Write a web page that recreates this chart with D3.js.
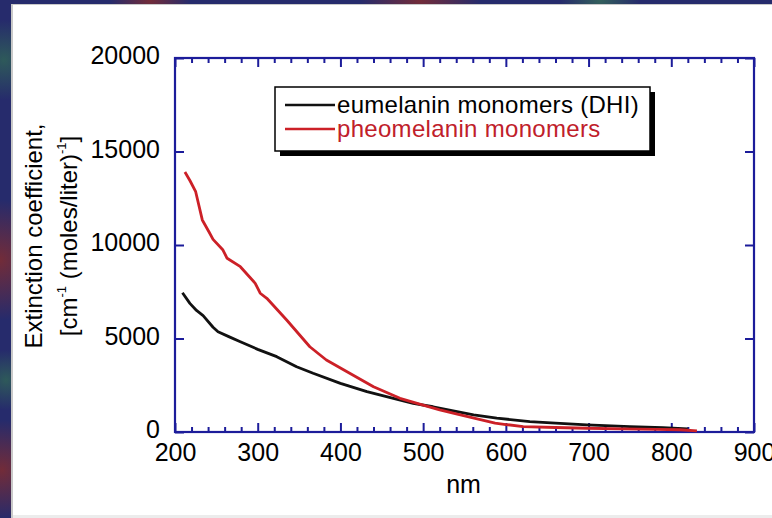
<!DOCTYPE html>
<html>
<head>
<meta charset="utf-8">
<script src="https://cdn.jsdelivr.net/npm/d3@7"></script>
<style>
  html, body { margin: 0; padding: 0; background: #262b6c; }
  svg { display: block; font-family: "Liberation Sans", Arial, sans-serif; }
</style>
</head>
<body>
<script>
const width = 772;
const height = 518;

// Eumelanin monomers (DHI)
const euNm  = [209, 218, 226, 234, 246, 252, 265, 279, 300, 323, 347, 367, 400, 432, 464, 488, 512, 541, 561, 589, 629, 660, 698, 750, 790, 820];
const euVal = [7450, 6880, 6500, 6220, 5600, 5360, 5100, 4830, 4420, 4030, 3490, 3140, 2600, 2155, 1800, 1530, 1350, 1090, 920, 740, 560, 470, 380, 290, 230, 170];

// Pheomelanin monomers
const pheoNm  = [212, 218, 225, 233, 241, 246, 258, 263, 279, 297, 303, 311, 335, 363, 383, 408, 440, 472, 500, 520, 545, 587, 600, 621, 660, 698, 740, 782, 810, 831];
const pheoVal = [13900, 13450, 12850, 11340, 10710, 10300, 9730, 9290, 8840, 7950, 7420, 7150, 5990, 4560, 3850, 3225, 2420, 1800, 1440, 1180, 920, 470, 400, 290, 240, 200, 170, 140, 120, 60];

const xTicks = [200, 300, 400, 500, 600, 700, 800, 900];
const yTicks = [0, 5000, 10000, 15000, 20000];
const legendLabels = ["eumelanin monomers (DHI)", "pheomelanin monomers"];

const axisColor = "#1c1c9a";
const euColor = "#111111";
const pheoColor = "#cc2027";

const margin = {left: 175, right: 754, top: 58, bottom: 432};

const svg = d3.select("body")
  .append("svg")
  .attr("width", width)
  .attr("height", height)
  .attr("viewBox", [0, 0, width, height]);

// mottled backdrop behind the white slide
const defs = svg.append("defs");
const blobs = [
  {id: "b1", c: "#7b2c33", cx: 0, cy: 260, r: 60},
  {id: "b2", c: "#2f5f58", cx: 4, cy: 60, r: 40},
  {id: "b3", c: "#7b2c33", cx: 2, cy: 470, r: 50},
  {id: "b4", c: "#2f5f58", cx: 6, cy: 380, r: 30},
  {id: "b5", c: "#7b2c33", cx: 420, cy: 0, r: 60},
  {id: "b6", c: "#35665a", cx: 600, cy: 0, r: 40},
  {id: "b7", c: "#7b2c33", cx: 150, cy: 0, r: 40}
];
blobs.forEach(b => {
  const g = defs.append("radialGradient").attr("id", b.id);
  g.append("stop").attr("offset", "0%").attr("stop-color", b.c).attr("stop-opacity", 0.9);
  g.append("stop").attr("offset", "100%").attr("stop-color", b.c).attr("stop-opacity", 0);
});
svg.append("rect").attr("width", width).attr("height", height).attr("fill", "#262b6c");
svg.selectAll(".blob").data(blobs).enter().append("circle")
  .attr("cx", d => d.cx).attr("cy", d => d.cy).attr("r", d => d.r)
  .attr("fill", d => `url(#${d.id})`);

svg.append("rect").attr("x", 11).attr("y", 4).attr("width", width - 11).attr("height", height - 4)
  .attr("fill", "#c9c9c9");
svg.append("rect").attr("x", 13).attr("y", 5).attr("width", width - 13).attr("height", 510)
  .attr("fill", "#ffffff");
svg.append("rect").attr("x", 13).attr("y", 515).attr("width", width - 13).attr("height", 3)
  .attr("fill", "#ececec");

const x = d3.scaleLinear().domain([200, 900]).range([margin.left, margin.right]);
const y = d3.scaleLinear().domain([0, 20000]).range([margin.bottom, margin.top]);

const minorX = d3.range(200, 901, 20).filter(v => v % 100 !== 0);

// minor ticks, top and bottom, pointing inward
svg.append("g")
  .attr("transform", `translate(0,${margin.bottom})`)
  .call(d3.axisBottom(x).tickValues(minorX).tickSize(-5).tickFormat(""))
  .call(g => g.select(".domain").remove());
svg.append("g")
  .attr("transform", `translate(0,${margin.top})`)
  .call(d3.axisTop(x).tickValues(minorX).tickSize(-5).tickFormat(""))
  .call(g => g.select(".domain").remove());

// major ticks
svg.append("g")
  .attr("transform", `translate(0,${margin.bottom})`)
  .call(d3.axisBottom(x).tickValues(xTicks).tickSize(-9).tickPadding(11).tickFormat(d3.format("d")));
svg.append("g")
  .attr("transform", `translate(0,${margin.top})`)
  .call(d3.axisTop(x).tickValues(xTicks).tickSize(-9).tickFormat(""));

const yAxis = svg.append("g")
  .attr("transform", `translate(${margin.left},0)`)
  .call(d3.axisLeft(y).tickValues(yTicks).tickSize(-9).tickPadding(15).tickFormat(d3.format("d")));
svg.append("g")
  .attr("transform", `translate(${margin.right},0)`)
  .call(d3.axisRight(y).tickValues(yTicks).tickSize(-9).tickFormat(""));

svg.selectAll(".tick line").attr("stroke", axisColor).attr("stroke-width", 2);
svg.selectAll(".domain").attr("stroke", "none");
svg.selectAll(".tick text")
  .attr("fill", "#000")
  .style("font-size", "25px");
yAxis.selectAll(".tick text").attr("dy", "0.22em");

// frame
svg.append("rect")
  .attr("x", margin.left).attr("y", margin.top)
  .attr("width", margin.right - margin.left).attr("height", margin.bottom - margin.top)
  .attr("fill", "none").attr("stroke", axisColor).attr("stroke-width", 2.2);

// curves
const line = d3.line().x(d => x(d[0])).y(d => y(d[1]));
svg.append("path")
  .datum(d3.zip(euNm, euVal))
  .attr("fill", "none").attr("stroke", euColor).attr("stroke-width", 2.8)
  .attr("stroke-linejoin", "round")
  .attr("d", line);
svg.append("path")
  .datum(d3.zip(pheoNm, pheoVal))
  .attr("fill", "none").attr("stroke", pheoColor).attr("stroke-width", 2.8)
  .attr("stroke-linejoin", "round")
  .attr("d", line);

// axis titles
svg.append("text")
  .attr("x", (margin.left + margin.right) / 2 - 1).attr("y", 493)
  .attr("text-anchor", "middle").style("font-size", "25px")
  .text("nm");

const yt = svg.append("g").attr("transform", "translate(0,236) rotate(-90)");
yt.append("text").attr("x", 0).attr("y", 42)
  .attr("text-anchor", "middle").style("font-size", "24px")
  .text("Extinction coefficient,");
const t2 = yt.append("text").attr("x", 0).attr("y", 77)
  .attr("text-anchor", "middle").style("font-size", "24px");
t2.append("tspan").text("[cm");
t2.append("tspan").attr("dy", -11).style("font-size", "13px").text("-1");
t2.append("tspan").attr("dy", 11).text("  (moles/liter)");
t2.append("tspan").attr("dy", -11).style("font-size", "13px").text("-1");
t2.append("tspan").attr("dy", 11).text("]");

// legend
const legend = svg.append("g").attr("transform", "translate(275,87)");
legend.append("rect").attr("x", 5).attr("y", 5).attr("width", 375).attr("height", 64).attr("fill", "#000");
legend.append("rect").attr("x", 0).attr("y", 0).attr("width", 375).attr("height", 64)
  .attr("fill", "#fff").attr("stroke", "#000").attr("stroke-width", 1.5);
const legendColors = [euColor, pheoColor];
const items = legend.selectAll(".item").data(legendLabels).enter().append("g")
  .attr("transform", (d, i) => `translate(0,${18 + i * 24})`);
items.append("line").attr("x1", 10).attr("x2", 60)
  .attr("stroke", (d, i) => legendColors[i]).attr("stroke-width", 2.4);
items.append("text").attr("x", 62).attr("y", 8)
  .style("font-size", "24px")
  .style("letter-spacing", "0.3px")
  .attr("fill", (d, i) => i === 0 ? "#000" : "#c0202a")
  .text(d => d);
</script>
</body>
</html>
